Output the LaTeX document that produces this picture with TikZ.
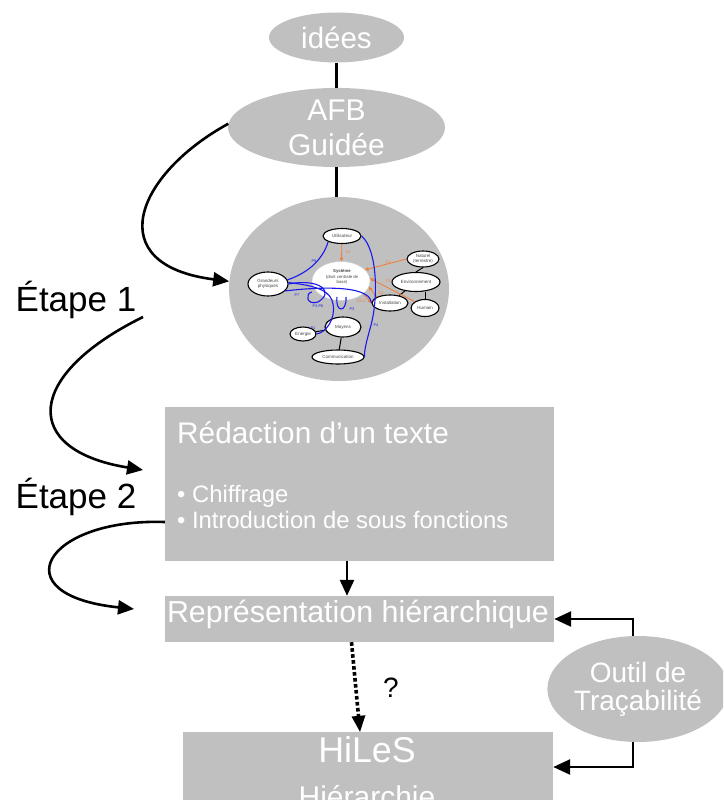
\documentclass[tikz,border=0pt]{standalone}
\usepackage{fontspec}
\setmainfont{Liberation Sans}
\usetikzlibrary{arrows.meta,shapes.geometric}
\definecolor{boxgray}{RGB}{192,192,192}
\definecolor{linkorange}{RGB}{240,125,55}
\definecolor{linkblue}{RGB}{25,25,235}
\definecolor{minitext}{RGB}{70,70,70}
\begin{document}
\begin{tikzpicture}[x=1pt,y=-1pt,
  grayell/.style={ellipse, fill=boxgray, inner sep=0pt, text=white, align=center},
  graybox/.style={rectangle, fill=boxgray, inner sep=0pt},
  whitetext/.style={text=white, inner sep=0pt},
  link/.style={line width=2.6pt, black},
  bigtip/.style={-{Triangle[length=16pt,width=14pt]}},
  mini/.style={ellipse, draw=black, line width=1.1pt, fill=white, inner sep=0pt,
    font=\fontsize{4.5}{4.8}\selectfont, text=minitext, align=center},
  minilink/.style={line width=1pt, black},
  orangelink/.style={draw=linkorange, line width=0.8pt, -{Triangle[length=3.5pt,width=3.5pt]}},
  bluelink/.style={draw=linkblue, line width=1.1pt},
  bluelabel/.style={font=\fontsize{3.8}{4}\selectfont, text=linkblue, inner sep=0pt},
  orangelabel/.style={font=\fontsize{3.8}{4}\selectfont, text=linkorange, inner sep=0pt},
]
\clip (0,0) rectangle (723,800);

% ---- top chain: ideas -> AFB -> functional diagram
\node[grayell, minimum width=135pt, minimum height=50pt,
      font=\fontsize{29.5}{30}\selectfont] (ideas) at (336.5,37.5) {idées};
\node[grayell, minimum width=217pt, minimum height=79pt,
      font=\fontsize{30}{35}\selectfont] (afb) at (336.5,127.5) {AFB\\Guidée};
\node[grayell, minimum width=220pt, minimum height=184pt] (sys) at (339,289) {};

\draw[link] (ideas.south) -- (afb.north);
\draw[link] (afb.south) -- (afb.south |- sys.north);

% ---- functional environment diagram (inside the big ellipse)
\node[ellipse, fill=white, draw=black!20, line width=0.4pt, inner sep=0pt,
      minimum width=58pt, minimum height=39pt] (core) at (341,281) {};
\node[font=\fontsize{4.3}{5.2}\selectfont, text=minitext, align=center, inner sep=0pt]
      (coretext) at (342,277) {\textbf{Système}\\(dont centrale de\\base)};
\node[mini, minimum width=38pt, minimum height=15pt] (util) at (342,236) {Utilisateur};
\node[mini, minimum width=40pt, minimum height=24pt] (grand) at (268,284) {Grandeurs\\physiques};
\node[mini, minimum width=32pt, minimum height=16pt] (nat) at (423,259) {Naturel\\(terrestre)};
\node[mini, minimum width=48pt, minimum height=19pt] (env) at (416,282) {Environnement};
\node[mini, minimum width=36pt, minimum height=16pt] (inst) at (390,303) {Installation};
\node[mini, minimum width=28pt, minimum height=17pt] (hum) at (425,308) {Humain};
\node[mini, minimum width=36pt, minimum height=20pt] (moy) at (343,327) {Moyens};
\node[mini, minimum width=26pt, minimum height=14pt] (ener) at (303,334) {Energie};
\node[mini, minimum width=52pt, minimum height=14pt] (comm) at (338,357) {Communication};

\draw[minilink] (nat.south) -- (env.north);
\draw[minilink] (hum.north) -- (hum.north |- env.south);
\draw[minilink] (env) -- (inst);
\draw[minilink] (ener) -- (moy);
\draw[minilink] (moy) -- (comm);

% constraints
\draw[orangelink] (util) -- (core);
\node[orangelabel] (c2) at (348,252) {C2};
\draw[orangelink] (nat.west) -- (core.25);
\node[orangelabel] (c1) at (388,262) {C1};
\draw[orangelink] (hum.north west) -- (core.5);
\node[orangelabel] (c3) at (388,281) {C3};
\draw[orangelink] (inst.north west) -- (core.-12);
\node[orangelabel] (c4) at (381,293) {C4};
\draw[orangelink] (core.-30) -- (inst.west);
\node[orangelabel] (c5) at (361,301) {C5-2};

% flows
\draw[bluelink] (util.south west) .. controls (322,262) and (305,274) .. (grand.12);
\node[bluelabel] (p9) at (314,261) {P9};
\draw[bluelink] (grand.east) .. controls (320,278) and (335,292) .. (318,302)
      .. controls (306,306) and (305,293) .. (312,292);
\node[bluelabel] (p26) at (318,306) {P2-P6};
\draw[bluelink] (grand.-22) .. controls (310,288) and (370,283) .. (inst.west);
\node[bluelabel] (p7) at (297,295) {P7};
\draw[bluelink] (337,297) .. controls (335,313) and (347,313) .. (346,297);
\node[bluelabel] (p3) at (352,309) {P3};
\draw[bluelink] (ener.east) .. controls (325,333) and (336,320) .. (333,304)
      .. controls (331,292) and (320,286) .. (grand.4);
\node[bluelabel] (p1) at (313,328) {P1};
\draw[bluelink] (util.east) .. controls (378,250) and (378,300) .. (371,325)
      .. controls (367,340) and (364,350) .. (comm.east);
\node[bluelabel] (p4) at (376,325) {P4};

% ---- step 1
\draw[link, bigtip] (afb.178) .. controls (135,175) and (100,265) .. (sys.176);
\node[font=\fontsize{35}{40}\selectfont, inner sep=0pt] (etape1) at (76,300) {Étape 1};
\coordinate (s1start) at (143,317);
\coordinate (s1end) at (143,470);
\draw[link, bigtip] (s1start) .. controls (25,375) and (20,450) .. (s1end);

% ---- written text box
\node[graybox, minimum width=389pt, minimum height=154pt] (redac) at (359.5,484) {};
\node[whitetext, anchor=base west, font=\fontsize{29.8}{30}\selectfont] (redtitle)
      at (177,443) {Rédaction d’un texte};
\node[whitetext, anchor=base west, font=\fontsize{23.8}{26}\selectfont] (bullet1)
      at (177,502) {• Chiffrage};
\node[whitetext, anchor=base west, font=\fontsize{23.8}{26}\selectfont] (bullet2)
      at (177,528) {• Introduction de sous fonctions};

% ---- step 2
\node[font=\fontsize{35}{40}\selectfont, inner sep=0pt] (etape2) at (76,497) {Étape 2};
\coordinate (s2end) at (134,609);
\draw[link, bigtip] (redac.west |- 0,522) .. controls (45,518) and (0,595) .. (s2end);

% ---- hierarchical representation
\node[graybox, minimum width=389pt, minimum height=46pt] (repr) at (359.5,619) {};
\node[whitetext, anchor=base, font=\fontsize{30.4}{31}\selectfont] (reprtext)
      at (358,622) {Représentation hiérarchique};
\draw[link, bigtip] ([xshift=-12.5pt]redac.south) -- ([xshift=-12.5pt]repr.north);

% ---- HiLeS
\node[graybox, minimum width=370pt, minimum height=80pt] (hiles) at (368,772) {};
\node[whitetext, anchor=base, font=\fontsize{35.8}{36}\selectfont] (hilestext)
      at (367,762) {HiLeS};
\node[whitetext, anchor=base, font=\fontsize{30}{30}\selectfont] (hierar)
      at (367,807) {Hiérarchie};
\draw[line width=3.6pt, dash pattern=on 3.6pt off 2.4pt,
      -{Triangle[length=16pt,width=14pt,line width=0pt]}]
      ([xshift=-8pt]repr.south) -- ([xshift=-8pt]hiles.north);
\node[font=\fontsize{28}{30}\selectfont, inner sep=0pt] (question) at (391,688) {?};

% ---- traceability tool
\node[grayell, minimum width=172pt, minimum height=106pt,
      font=\fontsize{28}{28}\selectfont] (outil) at (638,689) {Outil de\\Traçabilité};
\draw[link, -{Triangle[length=17pt,width=15pt]}] ([xshift=-5pt]outil.north) |- (repr.east);
\draw[link, -{Triangle[length=17pt,width=15pt]}] ([xshift=-5pt]outil.south) |- ([yshift=5pt]hiles.east);
\end{tikzpicture}
\end{document}
